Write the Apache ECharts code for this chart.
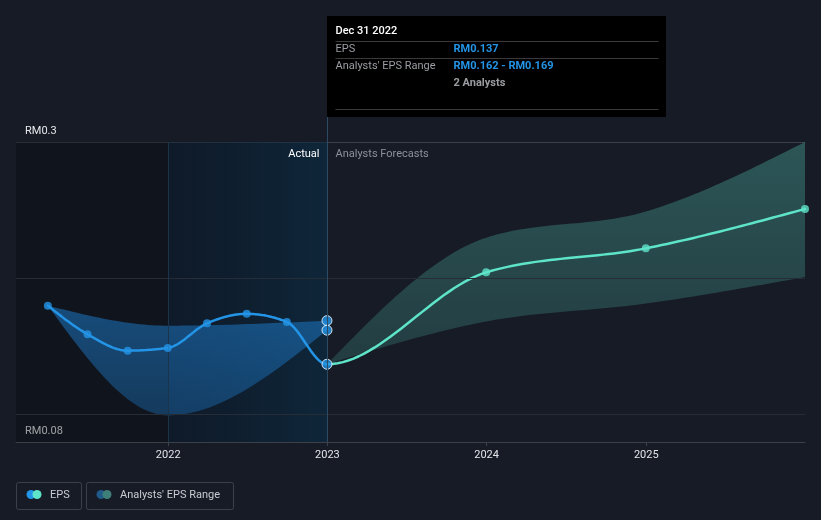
<!DOCTYPE html>
<html><head><meta charset="utf-8">
<script src="https://cdn.jsdelivr.net/npm/echarts@6/dist/echarts.min.js"></script>
<style>html,body{margin:0;padding:0;background:#161b26;} #c{width:821px;height:520px;}</style>
</head><body><div id="c"></div>
<script>
// ---- data ----
const actualDates = ['2021-03-31','2021-06-30','2021-09-30','2021-12-31','2022-03-31','2022-06-30','2022-09-30','2022-12-31'];
const epsActual   = [0.180, 0.159, 0.147, 0.149, 0.167, 0.174, 0.168, 0.137];
const pastRangeDates = ['2021-03-31','2021-12-31','2022-12-31'];
const pastLow  = [0.180, 0.0995, 0.162];
const pastHigh = [0.180, 0.1653, 0.169];
const forecastDates = ['2022-12-31','2023-12-31','2024-12-31','2025-12-31'];
const epsForecast  = [0.137, 0.2044, 0.222, 0.2509];
const forecastLow  = [0.137, 0.1684, 0.1815, 0.201];
const forecastHigh = [0.137, 0.2298, 0.249, 0.300];
const yTickValues = [0.08, 0.3];
const yGridValues = [0.1, 0.2];
const analystsCount = 2;
const tooltipDateLabel = 'Dec 31 2022';
const xMin = '2021-01-17', xMax = '2025-12-31';
const lastYearStart = '2022-01-01';

// ---- helpers ----
const FONT = 'Roboto, "Noto Sans", sans-serif';
const BLUE = '#2394e6', TEAL = '#5ee4c9';
const chart = echarts.init(document.getElementById('c'));
const ts = d => new Date(d + 'T00:00:00').getTime();
const pair = (d, v) => d.map((x, i) => [ts(x), v[i]]);
const LG = echarts.graphic.LinearGradient;

// monotone-x cubic interpolation (pixel space), sampled into points
function monotoneSamples(p, steps) {
  const n = p.length, s = [], t = new Array(n);
  for (let i = 0; i < n - 1; i++) s.push((p[i + 1][1] - p[i][1]) / (p[i + 1][0] - p[i][0]));
  if (n === 2) { t[0] = t[1] = s[0]; }
  else {
    for (let i = 1; i < n - 1; i++) {
      const h0 = p[i][0] - p[i - 1][0], h1 = p[i + 1][0] - p[i][0];
      const q = (s[i - 1] * h1 + s[i] * h0) / (h0 + h1);
      t[i] = (Math.sign(s[i - 1]) + Math.sign(s[i])) * Math.min(Math.abs(s[i - 1]), Math.abs(s[i]), 0.5 * Math.abs(q)) || 0;
    }
    t[0] = (3 * s[0] - t[1]) / 2;
    t[n - 1] = (3 * s[n - 2] - t[n - 2]) / 2;
  }
  const segs = [];
  for (let i = 0; i < n - 1; i++) {
    const [x0, y0] = p[i], [x1, y1] = p[i + 1], h = x1 - x0;
    const c1 = [x0 + h / 3, y0 + t[i] * h / 3], c2 = [x1 - h / 3, y1 - t[i + 1] * h / 3];
    const pts = [];
    for (let k = 0; k <= steps; k++) {
      const u = k / steps, v = 1 - u;
      pts.push([v*v*v*x0 + 3*v*v*u*c1[0] + 3*v*u*u*c2[0] + u*u*u*x1,
                v*v*v*y0 + 3*v*v*u*c1[1] + 3*v*u*u*c2[1] + u*u*u*y1]);
    }
    segs.push(pts);
  }
  return segs;
}
const flat = segs => segs.reduce((a, sg, i) => a.concat(i ? sg.slice(1) : sg), []);

function bandSeries(dates, lo, hi, fill) {
  return {
    type: 'custom', data: pair(dates, hi).concat(pair(dates, lo)), z: 1, silent: true,
    renderItem: (params, api) => {
      if (params.dataIndex !== 0) return {type: 'group', children: []};
      const up = flat(monotoneSamples(pair(dates, hi).map(d => api.coord(d)), 30));
      const dn = flat(monotoneSamples(pair(dates, lo).map(d => api.coord(d)), 30)).reverse();
      return {type: 'polygon', shape: {points: up.concat(dn)}, style: {fill: fill}};
    }
  };
}
// combined EPS path (actual + forecast) so the joining point has one tangent
const allDates = actualDates.concat(forecastDates.slice(1));
const allEps = epsActual.concat(epsForecast.slice(1));
const splitIdx = actualDates.length - 1;
function lineSeries(fromSeg, toSeg, color, z) {
  return {
    type: 'custom', data: pair(allDates, allEps), z: z, silent: true,
    renderItem: (params, api) => {
      if (params.dataIndex !== 0) return {type: 'group', children: []};
      const segs = monotoneSamples(pair(allDates, allEps).map(d => api.coord(d)), 30).slice(fromSeg, toSeg);
      return {type: 'polyline', shape: {points: flat(segs)}, style: {stroke: color, lineWidth: 2.5, fill: null, lineJoin: 'round', lineCap: 'round'}};
    }
  };
}

const lastIdx = pastRangeDates.length - 1;
const lastActual = actualDates[actualDates.length - 1];
const actualPts = pair(actualDates, epsActual).map((p, i, a) =>
  i === a.length - 1 ? {value: p, symbolSize: 10, itemStyle: {borderColor: '#fff', borderWidth: 1}} : p);

chart.setOption({
  backgroundColor: '#161b26',
  animation: false,
  grid: {left: 16, right: 16, top: 142, bottom: 78},
  xAxis: {
    type: 'time', min: ts(xMin), max: ts(xMax), splitNumber: 5, minInterval: 300 * 24 * 3600 * 1000,
    axisLine: {lineStyle: {color: '#3b4049'}},
    axisTick: {show: true, length: 4, lineStyle: {color: '#3b4049'}},
    axisLabel: {color: '#e3e5e8', fontSize: 11, fontFamily: FONT, margin: 8, formatter: '{yyyy}'},
    splitLine: {show: false}
  },
  yAxis: {
    type: 'value', min: yTickValues[0], max: yTickValues[1], interval: +(yTickValues[1] - yTickValues[0]).toFixed(4),
    axisLine: {show: false}, axisTick: {show: false},
    splitLine: {show: true, lineStyle: {color: '#3b4049'}},
    axisLabel: {inside: true, margin: 9, verticalAlign: 'bottom', padding: [0, 0, 5, 0],
      color: '#e6e8eb', fontSize: 11, fontFamily: FONT,
      formatter: v => 'RM' + (+v.toFixed(2))}
  },
  series: [
    {type: 'scatter', name: 'bg', data: [[ts(xMin), yTickValues[0]]], symbolSize: 0, z: 0, silent: true,
      markArea: {silent: true, data: [
        [{xAxis: ts(xMin), itemStyle: {color: 'rgba(6,8,12,0.33)'}}, {xAxis: ts(lastYearStart)}],
        [{xAxis: ts(lastYearStart), itemStyle: {color: new LG(0, 0, 1, 0, [{offset: 0, color: 'rgba(5,25,45,0.42)'}, {offset: 1, color: 'rgba(10,45,70,0.62)'}])}}, {xAxis: ts(lastActual)}]
      ]},
      markLine: {silent: true, symbol: ['none', 'none'], label: {show: false},
        data: yGridValues.map(v => ({yAxis: v, lineStyle: {color: '#272d37', type: 'solid', width: 1}}))
          .concat([{xAxis: ts(lastYearStart), lineStyle: {color: '#1b3449', type: 'solid', width: 1}}])}
    },
    bandSeries(pastRangeDates, pastLow, pastHigh, new LG(0, 0, 0, 1, [{offset: 0, color: 'rgba(30,130,215,0.50)'}, {offset: 1, color: 'rgba(30,130,215,0.34)'}])),
    bandSeries(forecastDates, forecastLow, forecastHigh, new LG(0, 0, 0, 1, [{offset: 0, color: 'rgba(90,205,185,0.33)'}, {offset: 1, color: 'rgba(90,205,185,0.19)'}])),
    lineSeries(splitIdx, allDates.length, TEAL, 3),
    lineSeries(0, splitIdx, BLUE, 4),
    {type: 'scatter', name: 'EPS forecast', data: pair(forecastDates, epsForecast).slice(1), symbolSize: 8,
      itemStyle: {color: TEAL}, z: 5, silent: true},
    {type: 'scatter', name: 'EPS', data: actualPts, symbolSize: 8, itemStyle: {color: BLUE}, z: 6, silent: true},
    {type: 'scatter', name: 'rangeEnd', data: [[ts(pastRangeDates[lastIdx]), pastHigh[lastIdx]], [ts(pastRangeDates[lastIdx]), pastLow[lastIdx]]],
      symbolSize: 10, itemStyle: {color: BLUE, borderColor: '#fff', borderWidth: 1}, z: 6, silent: true}
  ]
});

// ---- annotations positioned through the axes ----
const px = chart.convertToPixel({gridIndex: 0}, [ts(lastActual), yTickValues[1]]);
const bottomPx = chart.convertToPixel({gridIndex: 0}, [ts(lastActual), yTickValues[0]]);
const x0 = Math.round(px[0]) + 0.5;
const tipTop = 16, tipH = 101, tipW = 339;
const tx = x0 + 8, vx = x0 + 126;
const fmt = v => 'RM' + v.toFixed(3);
const T = (x, y, text, fill, weight, align) => ({type: 'text', x, y, z: 100, silent: true,
  style: {text, fill, font: (weight || 'normal') + ' 11px ' + FONT, textVerticalAlign: 'middle', textAlign: align || 'left'}});
const L = (x1, y1, x2, y2, stroke) => ({type: 'line', z: 99, silent: true, shape: {x1, y1, x2, y2}, style: {stroke, lineWidth: 1}});

const g = [
  L(x0, tipTop + tipH, x0, Math.round(bottomPx[1]), '#2c4a64'),
  {type: 'rect', z: 98, silent: true, shape: {x: x0 - 0.5, y: tipTop, width: tipW, height: tipH}, style: {fill: '#000000'}},
  T(tx, 31.5, tooltipDateLabel, '#ffffff', '500'),
  L(tx, 41.5, x0 + tipW - 8, 41.5, '#3a3a3a'),
  T(tx, 49, 'EPS', '#9a9da2'),
  T(vx, 49, fmt(epsActual[epsActual.length - 1]), BLUE, 'bold'),
  L(tx, 58.5, x0 + tipW - 8, 58.5, '#3a3a3a'),
  T(tx, 66, "Analysts' EPS Range", '#9a9da2'),
  T(vx, 66, fmt(pastLow[lastIdx]) + ' - ' + fmt(pastHigh[lastIdx]), BLUE, 'bold'),
  T(vx, 83, analystsCount + ' Analysts', '#9a9da2', 'bold'),
  L(tx, 109.5, x0 + tipW - 8, 109.5, '#3a3a3a'),
  T(x0 - 8, 154, 'Actual', '#ffffff', 'normal', 'right'),
  T(x0 + 8, 154, 'Analysts Forecasts', '#8d9198', 'normal', 'left'),
  // legend
  {type: 'rect', z: 98, silent: true, shape: {x: 16.5, y: 482.5, width: 65, height: 27, r: 2}, style: {fill: 'none', stroke: '#3b414b', lineWidth: 1}},
  {type: 'circle', z: 99, silent: true, shape: {cx: 31, cy: 494.5, r: 4.5}, style: {fill: BLUE}},
  {type: 'circle', z: 99, silent: true, shape: {cx: 37, cy: 494.5, r: 4.5}, style: {fill: TEAL}},
  T(50, 495.5, 'EPS', '#c9ccd1'),
  {type: 'rect', z: 98, silent: true, shape: {x: 86.5, y: 482.5, width: 147, height: 27, r: 2}, style: {fill: 'none', stroke: '#3b414b', lineWidth: 1}},
  {type: 'circle', z: 99, silent: true, shape: {cx: 101, cy: 494.5, r: 4.5}, style: {fill: '#1f5a88'}},
  {type: 'circle', z: 99, silent: true, shape: {cx: 107, cy: 494.5, r: 4.5}, style: {fill: '#3f7f79'}},
  T(120, 495.5, "Analysts' EPS Range", '#c9ccd1')
];
chart.setOption({graphic: g});
</script></body></html>
